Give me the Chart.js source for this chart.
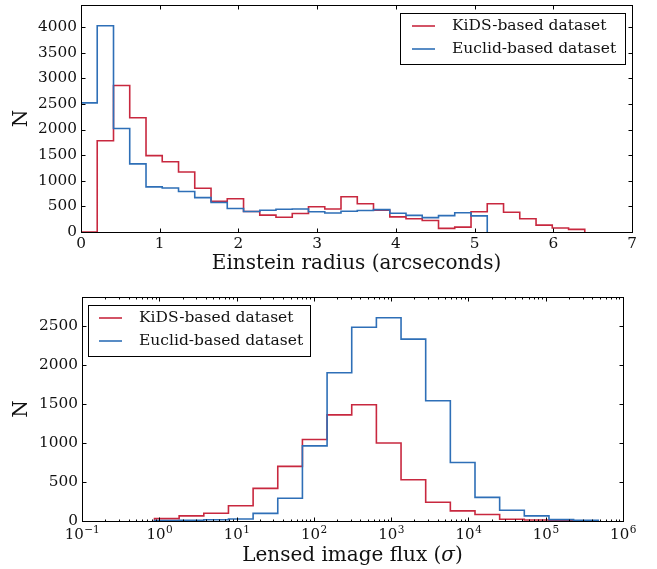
<!DOCTYPE html>
<html>
<head>
<meta charset="utf-8">
<script src="https://cdn.jsdelivr.net/npm/chart.js@4/dist/chart.umd.min.js"></script>
<style>
  body { margin: 0; background: #fff; }
  canvas { position: absolute; left: 0; }
  #radiusChart { top: 0; }
  #fluxChart { top: 285px; }
</style>
</head>
<body>
<canvas id="radiusChart" width="657" height="285"></canvas>
<canvas id="fluxChart" width="657" height="284"></canvas>
<script>
// --- data ---
const seriesNames = ['KiDS-based dataset', 'Euclid-based dataset'];
const seriesColors = ['#c8283f', '#2e6fb7'];

// top panel: Einstein radius histogram (bin edges in arcsec)
const radiusEdges = [0, 0.206, 0.413, 0.619, 0.826, 1.032, 1.239, 1.445, 1.652, 1.858, 2.065,
  2.271, 2.477, 2.684, 2.890, 3.097, 3.303, 3.510, 3.716, 3.923, 4.129, 4.335, 4.542, 4.748,
  4.955, 5.161, 5.368, 5.574, 5.781, 5.987, 6.194, 6.400];
const kidsRadius = [0, 1780, 2860, 2230, 1490, 1370, 1170, 855, 600, 650, 400, 330, 288, 362,
  492, 448, 688, 550, 425, 295, 260, 225, 70, 95, 395, 550, 385, 260, 135, 78, 52];
const euclidRadius = [2520, 4025, 2020, 1330, 880, 860, 790, 670, 575, 460, 400, 425, 445, 450,
  395, 370, 405, 420, 437, 365, 325, 280, 320, 375, 315];
const radiusTicks = [0, 1, 2, 3, 4, 5, 6, 7];
const radiusCountTicks = [0, 500, 1000, 1500, 2000, 2500, 3000, 3500, 4000];

// bottom panel: lensed image flux histogram (log bins)
const fluxEdges = [0.867, 1.807, 3.767, 7.852, 16.37, 34.12, 71.12, 148.3, 309.0, 644.2, 1343,
  2799, 5834, 12162, 25351, 52845, 110154, 229615, 478630];
const kidsFlux = [30, 66, 100, 196, 418, 700, 1045, 1360, 1490, 1000, 528, 240, 130, 84, 22, 12, 4];
const euclidFlux = [6, 10, 16, 26, 98, 292, 962, 1900, 2483, 2605, 2330, 1540, 750, 303, 137, 66, 18, 8];
const fluxTicks = [0.1, 1, 10, 100, 1000, 10000, 100000, 1000000];
const fluxCountTicks = [0, 500, 1000, 1500, 2000, 2500];

const serif = "'DejaVu Serif', serif";
Chart.defaults.font.family = serif;
Chart.defaults.font.size = 15.3;
Chart.defaults.color = '#111';

// step outline like matplotlib histtype='step'
function stepPoints(edges, counts) {
  const pts = [{x: edges[0], y: 0}];
  counts.forEach((c, i) => pts.push({x: edges[i], y: c}));
  const n = counts.length;
  pts.push({x: edges[n], y: counts[n - 1]});
  pts.push({x: edges[n], y: 0});
  return pts;
}

function dataset(i, edges, counts) {
  return {
    label: seriesNames[i],
    data: stepPoints(edges, counts),
    borderColor: seriesColors[i],
    borderWidth: 1.6,
    stepped: 'before',
    pointRadius: 0,
    fill: false,
    order: 2 - i
  };
}

const snap = v => Math.round(v) + 0.5;

// frame, inward ticks on all four sides, legend box, log labels
const mplFrame = {
  id: 'mplFrame',
  afterDatasetsDraw(chart, args, o) {
    const ctx = chart.ctx, a = chart.chartArea;
    const xs = chart.scales.x, ys = chart.scales.y;
    ctx.save();
    ctx.strokeStyle = '#000';
    ctx.lineWidth = 1;
    const seg = (x1, y1, x2, y2) => { ctx.beginPath(); ctx.moveTo(x1, y1); ctx.lineTo(x2, y2); ctx.stroke(); };
    const top = snap(a.top), bot = snap(a.bottom), lft = snap(a.left), rgt = snap(a.right);
    xs.ticks.forEach(t => {
      const px = snap(xs.getPixelForValue(t.value));
      seg(px, bot, px, bot - 4); seg(px, top, px, top + 4);
    });
    if (o.logX) {
      for (let k = -1; k < 6; k++) {
        for (let m = 2; m < 10; m++) {
          const px = snap(xs.getPixelForValue(m * Math.pow(10, k)));
          seg(px, bot, px, bot - 2); seg(px, top, px, top + 2);
        }
      }
      // 10^n labels with a raised exponent
      ctx.fillStyle = '#111';
      ctx.textBaseline = 'middle';
      ctx.textAlign = 'left';
      xs.ticks.forEach(t => {
        const px = xs.getPixelForValue(t.value);
        const e = String(Math.round(Math.log10(t.value))).replace('-', '\u2212');
        ctx.font = '15px ' + serif;
        const w1 = ctx.measureText('10').width;
        ctx.font = '10.5px ' + serif;
        const w2 = ctx.measureText(e).width;
        const x0 = px - (w1 + w2) / 2;
        ctx.font = '15px ' + serif;
        ctx.fillText('10', x0, a.bottom + 14);
        ctx.font = '10.5px ' + serif;
        ctx.fillText(e, x0 + w1 + 0.5, a.bottom + 9);
      });
      // axis title with italic sigma
      const parts = [['Lensed image flux (', ''], ['\u03c3', 'italic '], [')', '']];
      let total = 0;
      parts.forEach(p => { ctx.font = p[1] + '20px ' + serif; total += ctx.measureText(p[0]).width; });
      let x = (a.left + a.right) / 2 - total / 2;
      parts.forEach(p => {
        ctx.font = p[1] + '20px ' + serif;
        ctx.fillText(p[0], x, o.titleY);
        x += ctx.measureText(p[0]).width;
      });
    }
    ys.ticks.forEach(t => {
      const py = snap(ys.getPixelForValue(t.value));
      seg(lft, py, lft + 4, py); seg(rgt, py, rgt - 4, py);
    });
    ctx.strokeStyle = '#000';
    ctx.lineWidth = 1;
    ctx.strokeRect(lft, top, rgt - lft, bot - top);

    const lg = o.legend;
    ctx.fillStyle = '#fff';
    ctx.fillRect(lg.x, lg.y, lg.w, lg.h);
    ctx.strokeRect(snap(lg.x), snap(lg.y), lg.w, lg.h);
    ctx.font = '15.5px ' + serif;
    ctx.textBaseline = 'middle';
    ctx.textAlign = 'left';
    chart.data.datasets.forEach((ds, i) => {
      const y = lg.rows[i];
      ctx.strokeStyle = ds.borderColor;
      ctx.lineWidth = ds.borderWidth;
      seg(lg.line[0], y, lg.line[1], y);
      ctx.fillStyle = '#111';
      ctx.fillText(ds.label, lg.textX, y);
    });
    ctx.restore();
  }
};

function makeOptions(cfg) {
  return {
    responsive: false,
    animation: false,
    layout: {padding: cfg.padding},
    plugins: {legend: {display: false}, tooltip: {enabled: false}, mplFrame: cfg.frame},
    scales: {
      x: {
        type: cfg.xType,
        min: cfg.xMin, max: cfg.xMax,
        grid: {display: false, drawTicks: false},
        border: {display: false},
        ticks: {padding: 3, maxRotation: 0, autoSkip: false, callback: cfg.xLabel},
        afterBuildTicks: s => { s.ticks = cfg.xTicks.map(v => ({value: v})); },
        afterFit: s => { s.height = cfg.xHeight; s.paddingLeft = 0; s.paddingRight = 0; },
        title: {display: !!cfg.xTitle, text: cfg.xTitle, font: {size: 20}, padding: {top: 0, bottom: 9}}
      },
      y: {
        type: 'linear',
        min: 0, max: cfg.yMax,
        grid: {display: false, drawTicks: false},
        border: {display: false},
        ticks: {padding: 4, callback: v => String(v)},
        afterBuildTicks: s => { s.ticks = cfg.yTicks.map(v => ({value: v})); },
        afterFit: s => { s.width = cfg.yWidth; s.paddingTop = 0; s.paddingBottom = 0; },
        title: {display: true, text: 'N', font: {size: 20}, padding: {top: 10, bottom: 0}}
      }
    }
  };
}

new Chart(document.getElementById('radiusChart'), {
  type: 'line',
  data: {datasets: [dataset(0, radiusEdges, kidsRadius), dataset(1, radiusEdges, euclidRadius)]},
  options: makeOptions({
    padding: {top: 5, right: 25, left: 0, bottom: 0},
    xType: 'linear', xMin: 0, xMax: 7, xTicks: radiusTicks,
    xLabel: v => String(v),
    xHeight: 53, xTitle: 'Einstein radius (arcseconds)',
    yMax: 4430, yTicks: radiusCountTicks, yWidth: 81,
    frame: {logX: false,
      legend: {x: 400, y: 13, w: 225, h: 51, rows: [26, 49], line: [412, 435], textX: 452}}
  }),
  plugins: [mplFrame]
});

new Chart(document.getElementById('fluxChart'), {
  type: 'line',
  data: {datasets: [dataset(0, fluxEdges, kidsFlux), dataset(1, fluxEdges, euclidFlux)]},
  options: makeOptions({
    padding: {top: 12, right: 34, left: 0, bottom: 0},
    xType: 'logarithmic', xMin: 0.1, xMax: 1000000, xTicks: fluxTicks,
    xLabel: () => '',
    xHeight: 48, xTitle: '',
    yMax: 2870, yTicks: fluxCountTicks, yWidth: 82,
    frame: {logX: true, titleY: 271,
      legend: {x: 88, y: 20, w: 222, h: 51, rows: [33, 56], line: [99, 122], textX: 139}}
  }),
  plugins: [mplFrame]
});
</script>
</body>
</html>
